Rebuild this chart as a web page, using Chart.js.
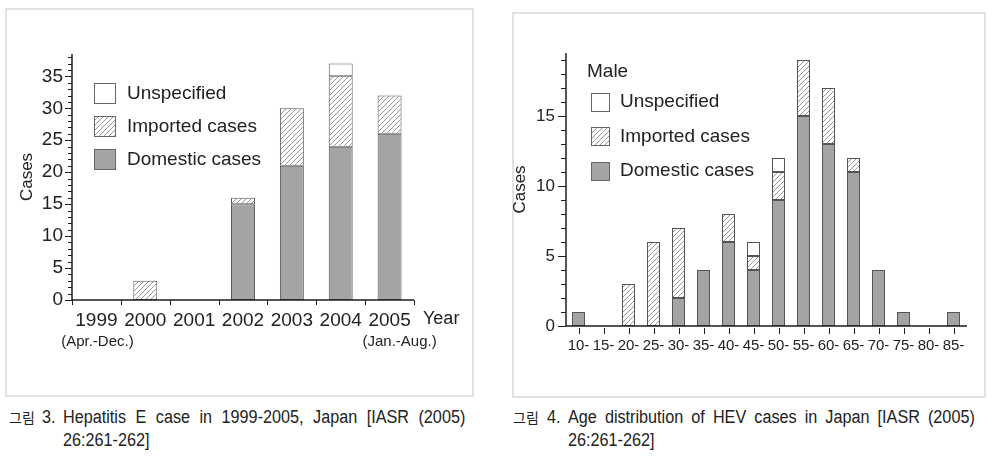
<!DOCTYPE html>
<html><head><meta charset="utf-8">
<script src="https://cdn.jsdelivr.net/npm/chart.js@4.4.1/dist/chart.umd.min.js"></script>
<style>
html,body{margin:0;padding:0;background:#fff;}
body{width:992px;height:459px;position:relative;overflow:hidden;font-family:"Liberation Sans",Arial,sans-serif;}
.panel{position:absolute;border:2px solid #e2e2e2;box-sizing:border-box;}
#p1{left:5px;top:8px;width:469px;height:389px;}
#p2{left:512px;top:12px;width:474px;height:386px;}
canvas{position:absolute;top:0;}
#c1{left:0;}
#c2{left:500px;}
.cap{position:absolute;font-family:"Liberation Sans",Arial,sans-serif;font-size:18px;color:#222;line-height:20px;white-space:nowrap;}
.kr{font-family:"Noto Sans CJK KR",sans-serif;font-size:14px;}
.sx{transform-origin:0 0;transform:scaleX(0.9);}
.just{white-space:normal;text-align:justify;text-align-last:justify;}
</style></head>
<body>
<div class="panel" id="p1"></div>
<div class="panel" id="p2"></div>
<canvas id="c1" width="480" height="400" style="width:480px;height:400px"></canvas>
<canvas id="c2" width="490" height="400" style="width:490px;height:400px"></canvas>

<div class="cap kr" style="left:9px;top:407px">그림</div>
<div class="cap sx" style="left:42px;top:407px">3.</div>
<div class="cap sx just" style="left:63px;top:407px;width:447px">Hepatitis E case in 1999-2005, Japan [IASR (2005)</div>
<div class="cap sx" style="left:63px;top:430px">26:261-262]</div>

<div class="cap kr" style="left:513px;top:407px">그림</div>
<div class="cap sx" style="left:547px;top:407px">4.</div>
<div class="cap sx just" style="left:568px;top:407px;width:452px">Age distribution of HEV cases in Japan [IASR (2005)</div>
<div class="cap sx" style="left:568px;top:430px">26:261-262]</div>

<script>
// ---- Data: Figure 3 (by year) ----
const years = ['1999', '2000', '2001', '2002', '2003', '2004', '2005'];
const yearNotes = ['(Apr.-Dec.)', '', '', '', '', '', '(Jan.-Aug.)'];
const yearDomestic = [0, 0, 0, 15, 21, 24, 26];
const yearImported = [0, 3, 0, 1, 9, 11, 6];
const yearUnspecified = [0, 0, 0, 0, 0, 2, 0];

// ---- Data: Figure 4 (by age, male) ----
const ageGroups = ['10-', '15-', '20-', '25-', '30-', '35-', '40-', '45-', '50-', '55-', '60-', '65-', '70-', '75-', '80-', '85-'];
const ageDomestic = [1, 0, 0, 0, 2, 4, 6, 4, 9, 15, 13, 11, 4, 1, 0, 1];
const ageImported = [0, 0, 3, 6, 5, 0, 2, 1, 2, 4, 4, 1, 0, 0, 0, 0];
const ageUnspecified = [0, 0, 0, 0, 0, 0, 0, 1, 1, 0, 0, 0, 0, 0, 0, 0];

const seriesNames = ['Domestic cases', 'Imported cases', 'Unspecified'];

const FONT = '"Liberation Sans", Arial, sans-serif';
const TXT = '#222';
const GRAY = '#a4a4a4';
const EDGE = '#555';

const hatch = (() => {
  const c = document.createElement('canvas'); c.width = 5; c.height = 5;
  const g = c.getContext('2d');
  g.fillStyle = '#fff'; g.fillRect(0, 0, 5, 5);
  g.strokeStyle = '#8a8a8a'; g.lineWidth = 0.9;
  g.beginPath();
  g.moveTo(0, 5); g.lineTo(5, 0);
  g.moveTo(-1, 1); g.lineTo(1, -1);
  g.moveTo(4, 6); g.lineTo(6, 4);
  g.stroke();
  return g.createPattern(c, 'repeat');
})();

function datasets(dom, imp, uns, pct) {
  const base = { borderWidth: 1, borderColor: EDGE, borderSkipped: false, categoryPercentage: 1, barPercentage: pct, stack: 's' };
  return [
    Object.assign({ label: seriesNames[0], data: dom, backgroundColor: GRAY }, base),
    Object.assign({ label: seriesNames[1], data: imp, backgroundColor: hatch }, base),
    Object.assign({ label: seriesNames[2], data: uns, backgroundColor: '#fff' }, base)
  ];
}

function axesPlugin(o) {
  return {
    id: 'axesDraw',
    afterDatasetsDraw(chart) {
      const { ctx, chartArea: a, scales: { x, y } } = chart;
      ctx.save();
      ctx.strokeStyle = '#1e1e1e';
      ctx.lineWidth = 1.5;
      ctx.beginPath();
      ctx.moveTo(a.left, a.top); ctx.lineTo(a.left, a.bottom);
      ctx.moveTo(a.left, a.bottom); ctx.lineTo(a.right + o.xExtend, a.bottom);
      ctx.stroke();
      ctx.lineWidth = 1;
      ctx.beginPath();
      for (let v = 0; v <= y.max; v++) {
        const py = Math.round(y.getPixelForValue(v)) + 0.5;
        const len = v % 5 === 0 ? o.major : o.minor;
        ctx.moveTo(a.left - len, py); ctx.lineTo(a.left, py);
      }
      const n = chart.data.labels.length;
      if (o.boundaryTicks) {
        for (let i = 0; i <= n; i++) {
          const px = Math.round(x.getPixelForValue(i - 0.5)) + 0.5;
          ctx.moveTo(px, a.bottom); ctx.lineTo(px, a.bottom + o.xTick);
        }
      } else {
        for (let i = 0; i < n; i++) {
          const px = Math.round(x.getPixelForValue(i)) + 0.5;
          ctx.moveTo(px, a.bottom + 2); ctx.lineTo(px, a.bottom + o.xTick);
        }
      }
      ctx.stroke();
      ctx.restore();
    }
  };
}

function legendPlugin(c) {
  return {
    id: 'boxLegend',
    afterDraw(chart) {
      const ctx = chart.ctx;
      ctx.save();
      ctx.font = c.size + 'px ' + FONT;
      ctx.textBaseline = 'middle';
      ctx.textAlign = 'left';
      ctx.fillStyle = TXT;
      if (c.heading) ctx.fillText(c.heading, c.hx, c.hy);
      const ds = chart.data.datasets.slice().reverse();
      ds.forEach((d, i) => {
        const cy = c.y0 + i * c.dy;
        const top = Math.round(cy - c.h / 2);
        ctx.fillStyle = d.backgroundColor;
        ctx.fillRect(c.x, top, c.w, c.h);
        ctx.strokeStyle = '#666';
        ctx.lineWidth = 1;
        ctx.strokeRect(c.x + 0.5, top + 0.5, c.w - 1, c.h - 1);
        ctx.fillStyle = TXT;
        ctx.fillText(d.label, c.tx, cy);
      });
      ctx.restore();
    }
  };
}

const notesPlugin = {
  id: 'yearNotes',
  afterDraw(chart) {
    const { ctx, chartArea: a, scales: { x } } = chart;
    ctx.save();
    ctx.fillStyle = TXT;
    ctx.textBaseline = 'middle';
    ctx.font = '15px ' + FONT;
    ctx.textAlign = 'center';
    const shift = [1, 0, 0, 0, 0, 0, 10];
    yearNotes.forEach((t, i) => { if (t) ctx.fillText(t, x.getPixelForValue(i) + shift[i], a.bottom + 42); });
    ctx.font = '18px ' + FONT;
    ctx.textAlign = 'left';
    ctx.fillText('Year', a.right + 9, a.bottom + 19);
    ctx.restore();
  }
};

function baseOptions(c) {
  return {
    responsive: false,
    devicePixelRatio: 1,
    animation: false,
    events: [],
    layout: { padding: { left: 0, right: c.padRight, top: c.padTop, bottom: 0 } },
    plugins: { legend: { display: false }, tooltip: { enabled: false } },
    scales: {
      x: {
        type: 'category',
        offset: true,
        stacked: true,
        grid: { display: false, drawTicks: false },
        border: { display: false },
        ticks: { autoSkip: false, maxRotation: 0, minRotation: 0, padding: c.xPad, color: TXT, font: { family: FONT, size: c.xFont } },
        afterFit(s) { s.height = c.xHeight; }
      },
      y: {
        stacked: true,
        min: 0,
        max: c.yMax,
        grid: { display: false, drawTicks: false },
        border: { display: false },
        ticks: { stepSize: 5, padding: c.yPad, color: TXT, font: { family: FONT, size: c.yFont } },
        afterBuildTicks(s) { s.ticks = s.ticks.filter(t => t.value % 5 === 0); },
        title: { display: true, text: 'Cases', color: TXT, font: { family: FONT, size: 17 }, padding: { top: c.titlePad, bottom: 0 } },
        afterFit(s) { s.width = c.yWidth; }
      }
    }
  };
}

new Chart(document.getElementById('c1'), {
  type: 'bar',
  data: { labels: years, datasets: datasets(yearDomestic, yearImported, yearUnspecified, 0.49) },
  options: baseOptions({ padRight: 66, padTop: 54, xPad: 9, xFont: 19, xHeight: 100, yMax: 38.5, yPad: 9, yFont: 19, titlePad: 17, yWidth: 72 }),
  plugins: [axesPlugin({ xExtend: 0, major: 7, minor: 4, boundaryTicks: true, xTick: 5 }),
            legendPlugin({ x: 94, w: 22, h: 21, y0: 93.5, dy: 33, tx: 127, size: 19 }),
            notesPlugin]
});

new Chart(document.getElementById('c2'), {
  type: 'bar',
  data: { labels: ageGroups, datasets: datasets(ageDomestic, ageImported, ageUnspecified, 0.52) },
  options: baseOptions({ padRight: 24, padTop: 53, xPad: 11, xFont: 15, xHeight: 74, yMax: 19.5, yPad: 11, yFont: 17, titlePad: 10, yWidth: 66 }),
  plugins: [axesPlugin({ xExtend: 1, major: 8, minor: 5, boundaryTicks: false, xTick: 8 }),
            legendPlugin({ heading: 'Male', hx: 87, hy: 72, x: 91, w: 19, h: 19, y0: 102, dy: 34.5, tx: 120, size: 19 })]
});
</script>
</body></html>
